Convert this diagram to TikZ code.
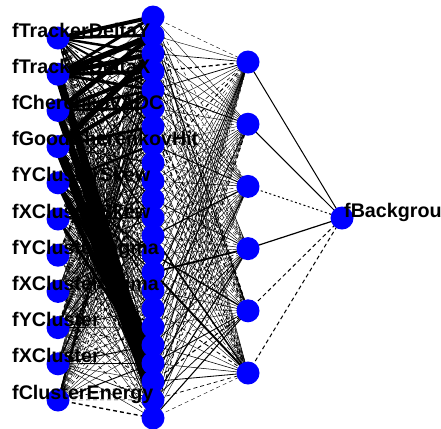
\documentclass[tikz,border=0pt]{standalone}
\usepackage{fontspec}
\setmainfont{Liberation Sans}
\pgfdeclarelayer{bg}
\pgfsetlayers{bg,main}
\tikzset{
  neuron/.style={circle,fill=nblue,draw=none,minimum size=23bp,inner sep=0pt},
  posw/.style={draw=black},
  negw/.style={draw=black,dash pattern=on 4bp off 3bp},
  dotw/.style={draw=black,dash pattern=on 2bp off 2.5bp},
  lbl/.style={font=\fontsize{19.7bp}{20bp}\selectfont\bfseries,inner sep=0pt,anchor=base west}
}
\definecolor{nblue}{RGB}{0,0,255}
\begin{document}
\begin{tikzpicture}[x=1bp,y=-1bp]
\useasboundingbox (0,0) rectangle (441,428);
% nodes
\foreach \i in {1,...,11}{
  \node[neuron] (i\i) at (58,{38+(\i-1)*36.2}) {};
}
\foreach \j in {1,...,23}{
  \node[neuron] (h\j) at (153,{17+(\j-1)*18.227}) {};
}
\foreach \k in {1,...,6}{
  \node[neuron] (g\k) at (248,{62+(\k-1)*62.2}) {};
}
\node[neuron] (o) at (342,218) {};
% edges
\pgfmathsetseed{2718}
\begin{pgfonlayer}{bg}
\fill[white] (0,0) rectangle (441,428);
\foreach \i in {1,...,11}{
  \foreach \j in {1,...,23}{
    \pgfmathsetmacro\w{0.4+1.3*rnd^4}
    \pgfmathtruncatemacro\ng{rnd<0.4?1:0}
    \ifnum\ng=1
      \draw[negw,line width=\w bp] (i\i.center) -- (h\j.center);
    \else
      \draw[posw,line width=\w bp] (i\i.center) -- (h\j.center);
    \fi
  }
}
\foreach \j in {1,...,23}{
  \foreach \k in {1,...,6}{
    \pgfmathsetmacro\w{0.4+0.9*rnd^5}
    \pgfmathtruncatemacro\ng{rnd<0.45?1:0}
    \ifnum\ng=1
      \draw[negw,line width=\w bp] (h\j.center) -- (g\k.center);
    \else
      \draw[posw,line width=\w bp] (h\j.center) -- (g\k.center);
    \fi
  }
}
% heavy weights
\foreach \a/\b/\w in {1/1/4,1/2/3,1/3/2.5,2/1/3,2/2/6,2/3/5,2/4/4,2/5/3,
  3/2/5,3/4/4,3/6/3,3/5/3,4/3/6,4/5/4,4/7/3,
  2/21/8,2/22/6,3/21/7,3/20/6,4/21/9,4/22/7,4/20/5,5/19/4,5/21/5,3/22/4,6/20/3,1/5/2,5/8/2.5}{
  \draw[posw,line width=\w bp] (i\a.center) -- (h\b.center);
}
\foreach \a/\b/\w in {15/4/1.8,15/6/2,14/5/1.4,13/6/1.5}{
  \draw[posw,line width=\w bp] (h\a.center) -- (g\b.center);
}
% output layer
\draw[posw,line width=1bp] (g1.center) -- (o.center);
\draw[posw,line width=1bp] (g2.center) -- (o.center);
\draw[dotw,line width=1bp] (g3.center) -- (o.center);
\draw[posw,line width=1.2bp] (g4.center) -- (o.center);
\draw[negw,line width=1bp] (g5.center) -- (o.center);
\draw[negw,line width=1bp] (g6.center) -- (o.center);
\end{pgfonlayer}
% labels
\node[lbl] (l1) at (12,37) {fTrackerDeltaY};
\node[lbl] (l2) at (12,73.2) {fTrackerDeltaX};
\node[lbl] (l3) at (12,109.4) {fCherenkovADC};
\node[lbl] (l4) at (12,145.6) {fGoodCherenkovHit};
\node[lbl] (l5) at (12,181.8) {fYClusterSkew};
\node[lbl] (l6) at (12,218) {fXClusterSkew};
\node[lbl] (l7) at (12,254.2) {fYClusterSigma};
\node[lbl] (l8) at (12,290.4) {fXClusterSigma};
\node[lbl] (l9) at (12,326.6) {fYCluster};
\node[lbl] (l10) at (12,362.8) {fXCluster};
\node[lbl] (l11) at (12,399) {fClusterEnergy};
\node[lbl] (lo) at (344,217) {fBackground};
\end{tikzpicture}
\end{document}
